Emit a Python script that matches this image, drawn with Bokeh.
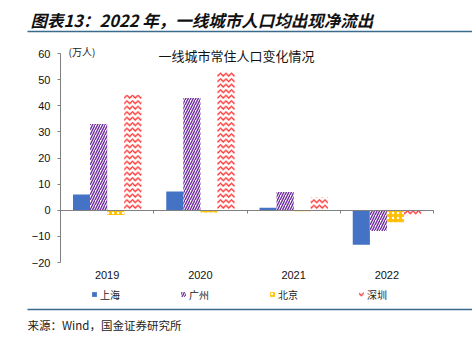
from bokeh.plotting import figure
from bokeh.models import (Range1d, FixedTicker, Label, BoxAnnotation, Legend,
                          LegendItem, LinearAxis)
from bokeh.embed import file_html
from bokeh.resources import INLINE

years = ["2019", "2020", "2021", "2022"]
shanghai = [6.0, 7.2, 1.0, -13.2]
guangzhou = [33.0, 43.0, 7.0, -7.9]
beijing = [-1.8, -0.9, -0.4, -4.6]
shenzhen = [44.2, 53.0, 4.9, -1.9]
series_names = ["上海", "广州", "北京", "深圳"]
yticks = [-20, -10, 0, 10, 20, 30, 40, 50, 60]

title_text = "图表13：2022 年，一线城市人口均出现净流出"
chart_title = "一线城市常住人口变化情况"
unit_text = "(万人)"
source_text = "来源：Wind，国金证券研究所"

CJK = "Noto Sans CJK SC"
LAT = "Liberation Sans"
RULE = "#3A6A8C"
W, H = 472, 341

# pixel geometry of the plotting area inside the full-canvas frame
X0, X1 = 60.0, 433.0      # x = 0 .. 4 (categories)
YT, YB = 53.0, 262.0      # y = 60 .. -20
n = len(years)
ymin, ymax = yticks[0], yticks[-1]
kx = (X1 - X0) / n
ky = (YB - YT) / (ymax - ymin)

p = figure(width=W, height=H, output_backend="svg", toolbar_location=None,
           x_range=Range1d(-X0 / kx, n + (W - X1) / kx),
           y_range=Range1d(ymin - (H - YB) / ky, ymax + YT / ky),
           min_border=0, x_axis_location=None, y_axis_location=None)
p.title.visible = False
p.outline_line_color = None
p.xgrid.visible = False
p.ygrid.visible = False

offsets = [-0.274, -0.091, 0.092, 0.275]
bw = 0.184
xs = [[i + 0.5 + o for i in range(n)] for o in offsets]

r_sh = p.vbar(x=xs[0], top=shanghai, bottom=0, width=bw, fill_color="#4472C4",
              line_color=None)
r_gz = p.vbar(x=xs[1], top=guangzhou, bottom=0, width=bw, fill_color="white",
              line_color=None, hatch_pattern="right_diagonal_line",
              hatch_color="#7030A0", hatch_scale=5, hatch_weight=1.45)
r_bj = p.vbar(x=xs[2], top=beijing, bottom=0, width=bw, fill_color="#FFC000",
              line_color=None, hatch_pattern="dot", hatch_color="white",
              hatch_scale=5, hatch_weight=1.0)
r_sz = p.vbar(x=xs[3], top=shenzhen, bottom=0, width=bw, fill_color="white",
              line_color=None, hatch_pattern="horizontal_wave",
              hatch_color="#FF2A2A", hatch_scale=5.5, hatch_weight=1.3)

# y axis at x = 0
yax = LinearAxis(ticker=FixedTicker(ticks=yticks), bounds=(ymin, ymax), fixed_location=0)
yax.axis_line_color = "#808080"
yax.major_tick_line_color = "#808080"
yax.major_tick_out = 3
yax.major_tick_in = 0
yax.minor_tick_line_color = None
yax.major_label_standoff = 7
yax.major_label_text_font = LAT
yax.major_label_text_font_size = "11px"
yax.major_label_text_color = "#111111"
p.add_layout(yax, "left")

# category axis line at y = 0 with boundary ticks
bticks = list(range(0, n + 1))
zax = LinearAxis(ticker=FixedTicker(ticks=bticks), bounds=(0, n), fixed_location=0,
                 major_label_overrides={t: "" for t in bticks})
zax.axis_line_color = "#808080"
zax.major_tick_line_color = "#808080"
zax.major_tick_out = 3
zax.major_tick_in = 0
zax.minor_tick_line_color = None
p.add_layout(zax, "below")

# category labels at the bottom of the plot area
xax = LinearAxis(ticker=FixedTicker(ticks=[i + 0.5 for i in range(n)]),
                 fixed_location=ymin,
                 major_label_overrides={i + 0.5: years[i] for i in range(n)})
xax.axis_line_color = None
xax.major_tick_line_color = None
xax.major_tick_out = 0
xax.major_tick_in = 0
xax.minor_tick_line_color = None
xax.major_label_standoff = 8
xax.major_label_text_font = LAT
xax.major_label_text_font_size = "11px"
xax.major_label_text_color = "#111111"
p.add_layout(xax, "below")

legend = Legend(items=[LegendItem(label=series_names[i], renderers=[r])
                       for i, r in enumerate([r_sh, r_gz, r_bj, r_sz])],
                location=(91, 39.5), orientation="horizontal",
                glyph_width=6, glyph_height=6, label_height=13, spacing=60,
                label_standoff=3, padding=0, margin=0, border_line_color=None,
                background_fill_alpha=0, label_text_font=CJK,
                label_text_font_size="10px", label_text_color="#222222")
p.add_layout(legend, "center")


def scr_label(x, sy, text, size, style="normal", color="#222222"):
    p.add_layout(Label(x=x, y=H - sy, x_units="screen", y_units="screen", text=text,
                       text_font=CJK, text_font_size=size, text_font_style=style,
                       text_baseline="middle", text_color=color))


scr_label(30, 19, title_text, "16.5px", "bold italic", "#111111")
scr_label(158, 55, chart_title, "13px", "normal", "#111111")
scr_label(68, 51, unit_text, "10px")
scr_label(27, 324, source_text, "11.5px")

for sy in (31.0, 309.0):
    p.add_layout(BoxAnnotation(left=27, right=W, top=H - sy + 0.8, bottom=H - sy - 0.8,
                               left_units="screen", right_units="screen",
                               top_units="screen", bottom_units="screen",
                               fill_color=RULE, fill_alpha=1, line_color=None))

open("out.html", "w").write(file_html(p, INLINE))
